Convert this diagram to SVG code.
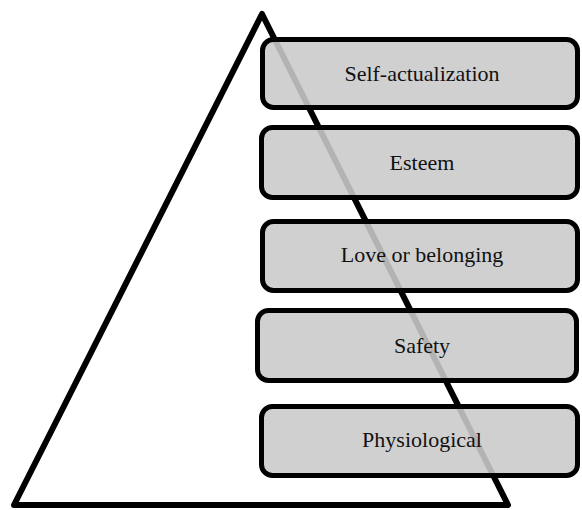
<svg xmlns="http://www.w3.org/2000/svg" width="582" height="510" viewBox="0 0 582 510">
<style>
.box{fill:#cacaca;fill-opacity:0.886;stroke:#000;stroke-width:5}
.lbl{font-family:"Liberation Serif","Times New Roman",serif;font-size:22px;fill:#111;text-anchor:middle}
</style>
<rect width="582" height="510" fill="#fff"/>
<g id="pyramid">
<polygon points="262,14 508,505 14,505" fill="none" stroke="#000" stroke-width="6" stroke-linejoin="round"/>
</g>
<g id="connectors"></g>
<g id="self-actualization">
<rect class="box" x="262.5" y="39.5" width="315" height="68" rx="11"/>
<text class="lbl" x="422" y="81">Self-actualization</text>
</g>
<g id="esteem">
<rect class="box" x="261.5" y="127.5" width="316" height="70" rx="11"/>
<text class="lbl" x="422" y="170">Esteem</text>
</g>
<g id="love">
<rect class="box" x="262.5" y="221.5" width="315" height="69" rx="11"/>
<text class="lbl" x="422" y="262">Love or belonging</text>
</g>
<g id="safety">
<rect class="box" x="257.5" y="310.5" width="319" height="70" rx="11"/>
<text class="lbl" x="422" y="353">Safety</text>
</g>
<g id="physiological">
<rect class="box" x="261.5" y="406.5" width="316" height="69" rx="11"/>
<text class="lbl" x="422" y="447">Physiological</text>
</g>
</svg>
